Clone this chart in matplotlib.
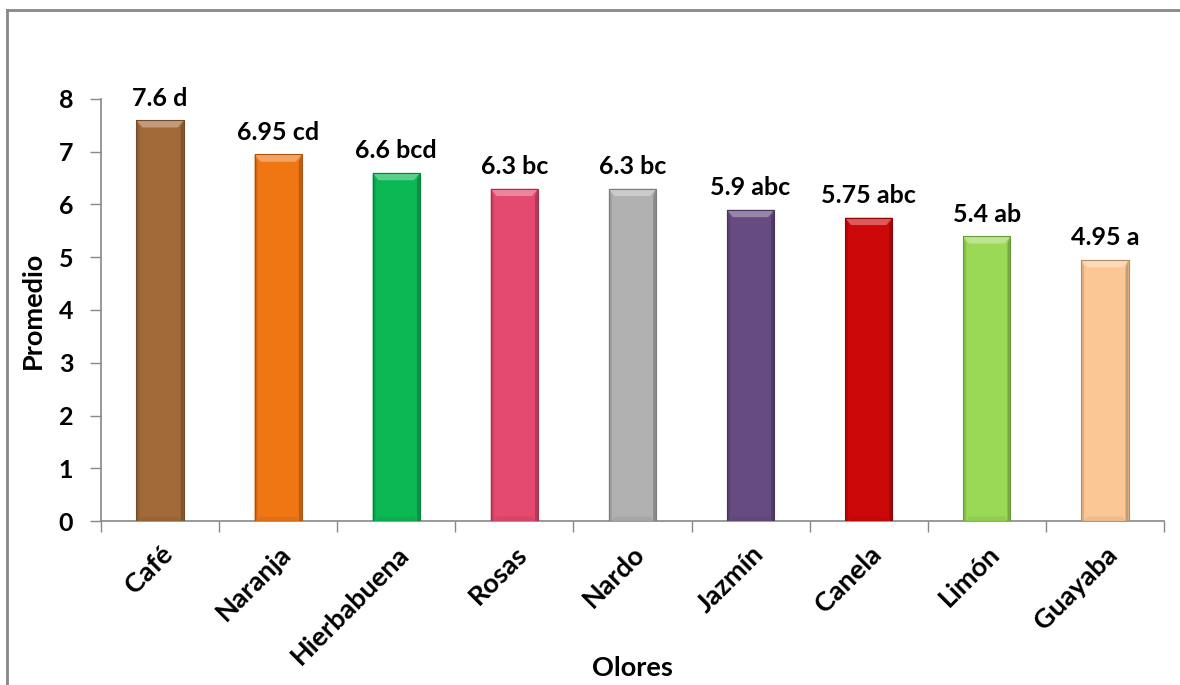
import matplotlib.pyplot as plt
from matplotlib.patches import Polygon
from matplotlib.colors import to_rgb
import numpy as np

OLORES = ["Café", "Naranja", "Hierbabuena", "Rosas", "Nardo", "Jazmín", "Canela", "Limón", "Guayaba"]
PROMEDIO = [7.6, 6.95, 6.6, 6.3, 6.3, 5.9, 5.75, 5.4, 4.95]
LETRAS = ["d", "cd", "bcd", "bc", "bc", "abc", "abc", "ab", "a"]
COLORES = ["#a26a38", "#f07614", "#0cb854", "#e4496f", "#b1b1b1",
           "#664b80", "#cc0808", "#99d956", "#fbc895"]

plt.rcParams["font.family"] = ["Lato", "DejaVu Sans"]
plt.rcParams["font.weight"] = "bold"


def shade(color, f):
    c = np.array(to_rgb(color))
    if f > 0:
        return tuple(c + (1 - c) * f)
    return tuple(c * (1 + f))


fig = plt.figure(figsize=(11.8, 6.85), dpi=100)
ax = fig.add_axes([0.0856, 0.2394, 0.9008, 0.6161])

x = np.arange(len(OLORES))
w = 0.4
bars = ax.bar(x, PROMEDIO, width=w, color=COLORES, edgecolor="none", zorder=2)

# bevel look: light top face, darker sides
bx = 0.05    # horizontal inset (category units)
by = 0.14    # vertical bevel size (data units)
for b, col in zip(bars, COLORES):
    x0, x1 = b.get_x(), b.get_x() + b.get_width()
    h = b.get_height()
    top = Polygon([(x0, h), (x1, h), (x1 - bx, h - by), (x0 + bx, h - by)],
                  closed=True, color=shade(col, 0.33), lw=0, zorder=3)
    left = Polygon([(x0, 0), (x0, h), (x0 + bx * 0.5, h - by), (x0 + bx * 0.5, 0)],
                   closed=True, color=shade(col, -0.12), lw=0, zorder=3)
    right = Polygon([(x1, 0), (x1, h), (x1 - bx * 0.5, h - by), (x1 - bx * 0.5, 0)],
                    closed=True, color=shade(col, -0.22), lw=0, zorder=3)
    bottom = Polygon([(x0 + bx * 0.5, 0), (x1 - bx * 0.5, 0), (x1 - bx, by * 0.6), (x0 + bx, by * 0.6)],
                     closed=True, color=shade(col, -0.06), lw=0, zorder=3)
    for p in (top, left, right, bottom):
        ax.add_patch(p)
    ax.plot([x0, x1, x1, x0, x0], [0, 0, h, h, 0], color=shade(col, -0.3), lw=0.8, zorder=4)

for xi, v, l in zip(x, PROMEDIO, LETRAS):
    ax.text(xi, v + 0.2, f"{v:g} {l}", ha="center", va="bottom", fontsize=18, fontweight="bold")

ax.set_xlim(-0.5, len(OLORES) - 0.5)
ax.set_ylim(0, 8)
ax.set_yticks(range(0, 9))
ax.set_xticks(x)
ax.set_xticklabels(OLORES, rotation=45, ha="right", va="top", rotation_mode="anchor", fontsize=19.5)
ax.set_xticks(np.arange(-0.5, len(OLORES)), minor=True)
ax.tick_params(axis="x", which="major", length=0, pad=15)
ax.tick_params(axis="x", which="minor", length=8, color="#888888", width=1)
ax.tick_params(axis="y", length=8, color="#888888", width=1, labelsize=18, pad=12)
for t in ax.get_yticklabels():
    t.set_fontweight("bold")
for s in ("top", "right"):
    ax.spines[s].set_visible(False)
for s in ("left", "bottom"):
    ax.spines[s].set_color("#888888")
    ax.spines[s].set_linewidth(1.2)

ax.set_ylabel("Promedio", fontsize=19.5, fontweight="bold", labelpad=10)
ax.set_xlabel("Olores", fontsize=19.5, fontweight="bold", va="center")
ax.xaxis.set_label_coords(0.5, -0.348)

# outer chart frame (left and top edges visible)
fig.add_artist(plt.Line2D([7 / 1180, 7 / 1180], [0, 1 - 10 / 685], transform=fig.transFigure,
                          color="#888888", lw=2))
fig.add_artist(plt.Line2D([7 / 1180, 1], [1 - 10 / 685, 1 - 10 / 685], transform=fig.transFigure,
                          color="#888888", lw=2))

fig.savefig("out.png", dpi=100)
